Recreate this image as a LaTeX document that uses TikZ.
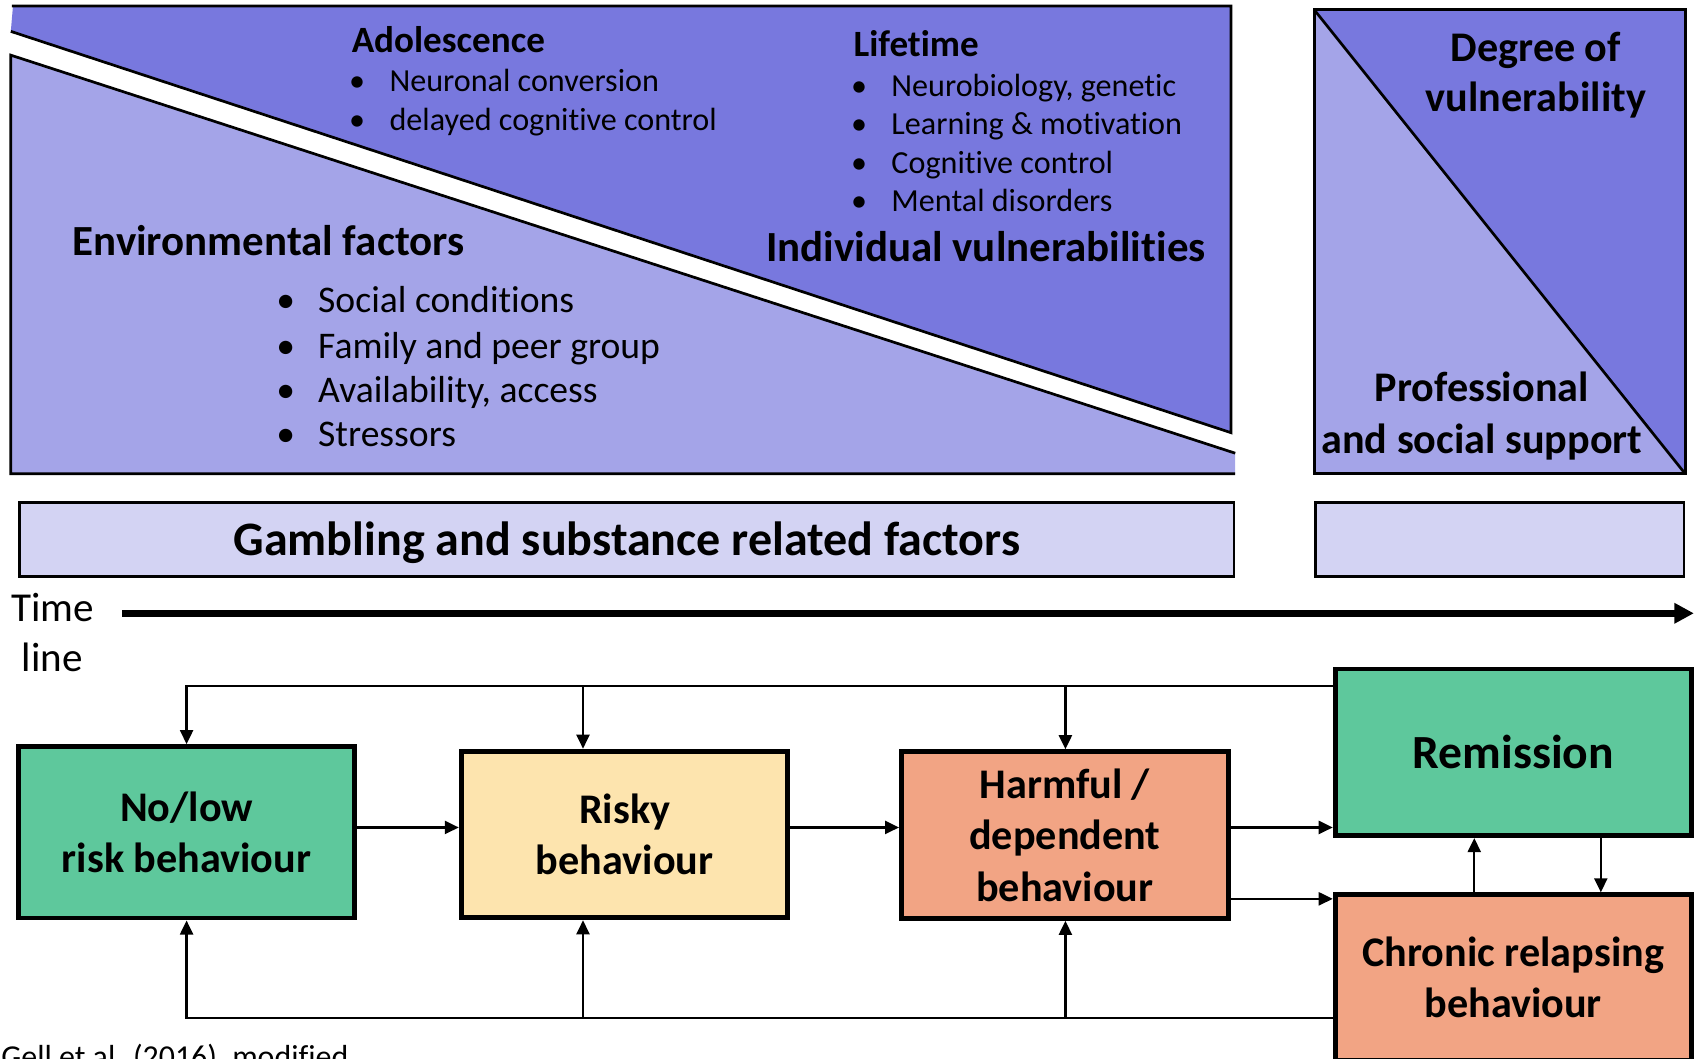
\documentclass[tikz,border=0pt]{standalone}
\usepackage{fontspec}
\setmainfont{Carlito}[Ligatures=NoCommon]
\usetikzlibrary{arrows.meta}
\definecolor{dark}{HTML}{7878DE}
\definecolor{light}{HTML}{A4A4E8}
\definecolor{pale}{HTML}{D3D3F3}
\definecolor{grn}{HTML}{5EC89C}
\definecolor{yel}{HTML}{FDE4AE}
\definecolor{sal}{HTML}{F2A484}
\newcommand{\mybul}{\makebox[0pt]{\textbullet}\hspace{30pt}}
\begin{document}
\begin{tikzpicture}[x=1pt,y=-1pt,
  box/.style={draw, line width=4.6pt, align=center, inner sep=0pt, font=\fontsize{39}{47.5}\selectfont\bfseries},
  arr/.style={line width=2.2pt, -{Triangle[length=13pt,width=12pt]}},
  panel/.style={line width=2.5pt},
  txt/.style={inner sep=0pt, anchor=base west},
  ctxt/.style={inner sep=0pt, anchor=base},
  bigb/.style={font=\fontsize{39}{47}\selectfont\bfseries},
  hugeb/.style={font=\fontsize{39.7}{47}\selectfont\bfseries},
  midb/.style={font=\fontsize{34.3}{40}\selectfont\bfseries},
  smallr/.style={font=\fontsize{29.7}{35}\selectfont},
  envr/.style={font=\fontsize{34.8}{41}\selectfont},
  timer/.style={font=\fontsize{38}{46}\selectfont}
]
\useasboundingbox (0,0) rectangle (1568,979);

% ---- top-left panel
\fill[dark] (12,5.5) -- (1138,5.5) -- (1138,400) -- (10,29) -- cycle;
\draw[panel] (11,5.5) -- (1138,5.5) -- (1138,400) -- (10,29);
\fill[light] (10,51) -- (1142,419) -- (1142,438) -- (10,438) -- cycle;
\draw[panel] (1142,419) -- (10,51) -- (10,438) -- (1142,438);

% ---- top-right panel
\fill[light] (1215,9) rectangle (1558,438);
\fill[dark] (1215,9) -- (1558,9) -- (1558,438) -- cycle;
\draw[panel] (1215,9) rectangle (1558,438);
\draw[panel] (1215,9) -- (1558,438);

% ---- texts in panels
\node[txt, midb] (adol) at (325,49) {Adolescence};
\node[txt, smallr] (adol1) at (330,85) {\mybul Neuronal conversion};
\node[txt, smallr] (adol2) at (330,121) {\mybul delayed cognitive control};

\node[txt, midb] (life) at (789,52) {Lifetime};
\node[txt, smallr] (life1) at (794,89) {\mybul Neurobiology, genetic};
\node[txt, smallr] (life2) at (794,124.5) {\mybul Learning \& motivation};
\node[txt, smallr] (life3) at (794,160.5) {\mybul Cognitive control};
\node[txt, smallr] (life4) at (794,195.5) {\mybul Mental disorders};

\node[txt, hugeb] (indiv) at (708,242) {Individual vulnerabilities};
\node[txt, hugeb] (env) at (67,236) {Environmental factors};
\node[txt, envr] (env1) at (264,289) {\mybul Social conditions};
\node[txt, envr] (env2) at (264,331) {\mybul Family and peer group};
\node[txt, envr] (env3) at (264,372) {\mybul Availability, access};
\node[txt, envr] (env4) at (264,413) {\mybul Stressors};

\node[ctxt, bigb] (deg1) at (1420,57) {Degree of};
\node[ctxt, bigb] (deg2) at (1420,103) {vulnerability};
\node[ctxt, bigb] (prof1) at (1370,371) {Professional};
\node[ctxt, bigb] (prof2) at (1370,419) {and social support};

% ---- factor bars
\node[draw, panel, fill=pale, inner sep=0pt, minimum width=1122.5pt, minimum height=68.5pt] (gamb) at (579.5,498.5) {};
\node[inner sep=0pt, font=\fontsize{44.4}{52}\selectfont\bfseries] (gambt) at (579.5,501.5) {Gambling and substance related factors};
\node[draw, panel, fill=pale, inner sep=0pt, minimum width=340.5pt, minimum height=68.5pt] (gamb2) at (1386.5,498.5) {};

% ---- time line
\node[txt, timer] (time1) at (10,575) {Time};
\node[txt, timer] (time2) at (20,621) {line};
\coordinate (t0) at (113,567);
\coordinate (t1) at (1566,567);
\draw[line width=6pt, -{Triangle[length=18pt,width=18pt]}] (t0) -- (t1);

% ---- boxes
\node[box, fill=grn, minimum width=310pt, minimum height=158.4pt] (nolow) at (172.5,769.5) {No/low\\risk behaviour};
\node[box, fill=yel, minimum width=302pt, minimum height=154pt] (risky) at (577.5,771.5) {Risky\\behaviour};
\node[box, fill=sal, minimum width=302pt, minimum height=154pt] (harm) at (984.5,772) {Harmful /\\dependent\\behaviour};
\node[box, fill=grn, minimum width=329pt, minimum height=154pt, font=\fontsize{44}{52}\selectfont\bfseries] (rem) at (1399,695.5) {Remission};
\node[box, fill=sal, minimum width=329pt, minimum height=153pt] (chron) at (1399,903.8) {Chronic relapsing\\behaviour};

% ---- connectors
\coordinate (ytop) at (0,634);
\coordinate (ybot) at (0,941);
\coordinate (ymid) at (0,765);
\coordinate (ylow) at (0,831);
\coordinate (jr) at (539,634);
\coordinate (jh) at (985,634);
\coordinate (br) at (539,941);
\coordinate (bh) at (985,941);
\coordinate (xu) at (1363,0);
\coordinate (xd) at (1480,0);

\draw[arr] (rem.west |- ytop) -| (nolow.north);
\draw[arr] (jr) -- (jr |- risky.north);
\draw[arr] (jh) -- (jh |- harm.north);
\draw[arr] (chron.west |- ybot) -| (nolow.south);
\draw[arr] (br) -- (br |- risky.south);
\draw[arr] (bh) -- (bh |- harm.south);
\draw[arr] (nolow.east |- ymid) -- (risky.west |- ymid);
\draw[arr] (risky.east |- ymid) -- (harm.west |- ymid);
\draw[arr] (harm.east |- ymid) -- (rem.west |- ymid);
\draw[arr] (harm.east |- ylow) -- (chron.west |- ylow);
\draw[arr] (chron.north -| xu) -- (rem.south -| xu);
\draw[arr] (rem.south -| xd) -- (chron.north -| xd);

% ---- citation
\node[txt, font=\fontsize{29.5}{34}\selectfont] (cite) at (1,987) {Gell et al. (2016), modified};
\end{tikzpicture}
\end{document}
